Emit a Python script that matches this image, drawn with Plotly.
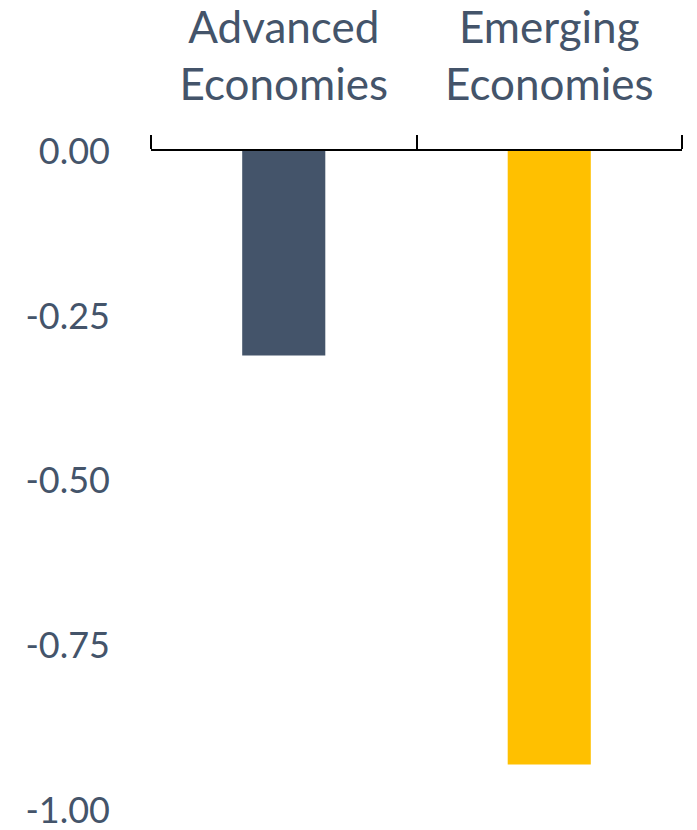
import plotly.graph_objects as go

# Category labels and values
categories = ["Advanced<br>Economies", "Emerging<br>Economies"]
values = [-0.31, -0.93]
bar_colors = ["#44546A", "#FFC000"]
y_ticks = [0.0, -0.25, -0.5, -0.75, -1.0]
y_tick_labels = ["0.00", "-0.25", "-0.50", "-0.75", "-1.00"]

TEXT = "#44546A"

fig = go.Figure(
    go.Bar(
        x=categories,
        y=values,
        marker=dict(color=bar_colors, line=dict(width=0)),
        width=0.313,
        showlegend=False,
    )
)

fig.update_layout(
    width=697,
    height=830,
    margin=dict(l=151, r=15, t=151, b=19),
    paper_bgcolor="white",
    plot_bgcolor="white",
    font=dict(family="Lato", color=TEXT),
    xaxis=dict(
        side="top",
        type="category",
        range=[-0.5, 1.5],
        automargin=False,
        showline=True,
        linecolor="#000000",
        linewidth=2,
        ticks="outside",
        tickson="boundaries",
        ticklen=14,
        tickwidth=2,
        tickcolor="#000000",
        showgrid=False,
        tickfont=dict(size=44, color=TEXT, family="Lato"),
        ticklabelstandoff=31,
    ),
    yaxis=dict(
        range=[-1.0005, 0.0],
        automargin=False,
        tickvals=y_ticks,
        ticktext=y_tick_labels,
        showgrid=False,
        zeroline=False,
        showline=False,
        ticks="",
        tickfont=dict(size=36, color=TEXT, family="Lato"),
        ticklabelstandoff=40,
        ticklabeloverflow="allow",
    ),
)

fig.write_html("out.html")
